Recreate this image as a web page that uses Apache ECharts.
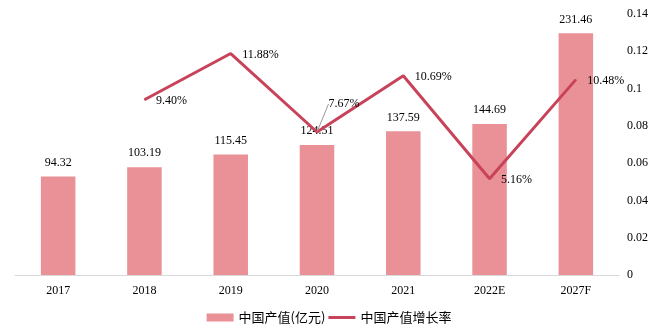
<!DOCTYPE html>
<html><head><meta charset="utf-8">
<script src="https://cdn.jsdelivr.net/npm/echarts@6/dist/echarts.min.js"></script>
<style>html,body{margin:0;padding:0;background:#fff}#c{width:658px;height:326px}</style>
</head><body><div id="c"></div>
<script>
const categories = ['2017','2018','2019','2020','2021','2022E','2027F'];
const outputValues = [94.32, 103.19, 115.45, 124.51, 137.59, 144.69, 231.46];
const growthRates = [null, 0.0940, 0.1188, 0.0767, 0.1069, 0.0516, 0.1048];
const rightTicks = [0, 0.02, 0.04, 0.06, 0.08, 0.1, 0.12, 0.14];
const seriesNames = ['中国产值(亿元)', '中国产值增长率'];

const serif = '"Liberation Serif","Times New Roman",serif';
const chart = echarts.init(document.getElementById('c'));
chart.setOption({
  animation: false,
  grid: {left: 15, right: 39, top: 14, bottom: 51},
  legend: {
    bottom: -3, left: 'center', itemGap: 3, itemWidth: 27, itemHeight: 8,
    textStyle: {fontSize: 13, color: '#000', fontFamily: '"Noto Sans CJK SC",sans-serif'},
    data: [{name: seriesNames[0], icon: 'rect'}, {name: seriesNames[1], icon: 'path://M0,0 H27 V3 H0 Z'}]
  },
  xAxis: {
    type: 'category', data: categories,
    axisLine: {lineStyle: {color: '#d9d9d9', width: 1}},
    axisTick: {show: false},
    axisLabel: {color: '#000', fontSize: 12, fontFamily: serif, margin: 10}
  },
  yAxis: [
    {type: 'value', min: 0, max: 250, show: false, splitLine: {show: false}},
    {type: 'value', min: 0, max: 0.14, interval: 0.02, position: 'right',
     axisLine: {show: false}, axisTick: {show: false}, splitLine: {show: false},
     axisLabel: {color: '#000', fontSize: 12, fontFamily: serif, margin: 8,
       formatter: v => String(+v.toFixed(2))}}
  ],
  series: [
    {name: seriesNames[0], type: 'bar', yAxisIndex: 0, data: outputValues, barWidth: '40%',
     itemStyle: {color: '#EA9097'},
     label: {show: true, position: 'top', distance: 8, color: '#000', fontSize: 12, fontFamily: serif,
       formatter: p => p.value.toFixed(2)}},
    {name: seriesNames[1], type: 'line', yAxisIndex: 1, symbol: 'circle', symbolSize: 1, showSymbol: true,
     connectNulls: false,
     lineStyle: {color: '#C8435A', width: 3}, itemStyle: {color: '#C8435A'},
     data: growthRates.map((v, i) => i === 3 ? {value: v, labelLine: {show: true}} : v),
     label: {show: true, position: 'right', distance: 11, color: '#000', fontSize: 12, fontFamily: serif,
       formatter: p => p.value == null ? '' : (p.value * 100).toFixed(2) + '%'},
     labelLine: {show: false, lineStyle: {color: '#999', width: 1}},
     labelLayout: p => p.dataIndex === 3 ? {dy: -28, dx: 0} : {dy: 1}
    }
  ]
});
</script></body></html>
